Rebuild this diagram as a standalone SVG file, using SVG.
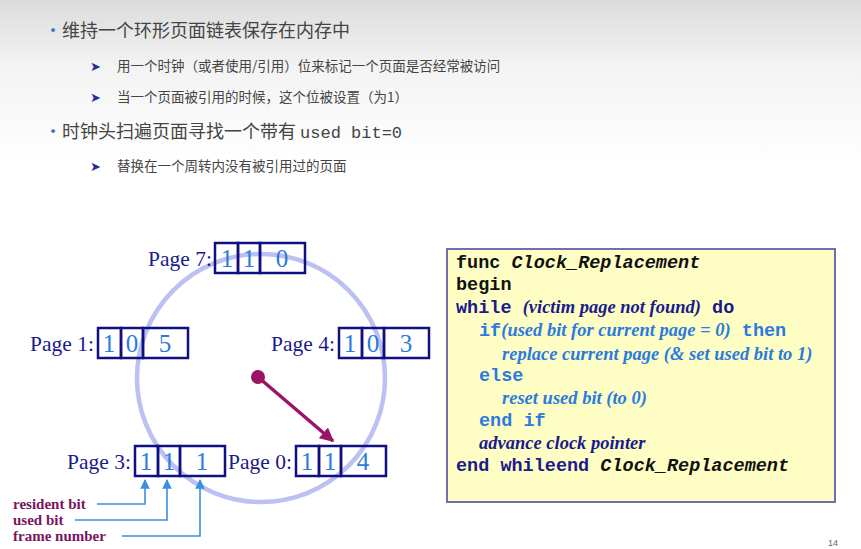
<svg xmlns="http://www.w3.org/2000/svg" width="861" height="549" viewBox="0 0 861 549">
<defs>
<linearGradient id="bg" x1="0" y1="0" x2="0" y2="1"><stop offset="0" stop-color="#dcdcdc"/><stop offset="0.12" stop-color="#f3f3f3"/><stop offset="0.3" stop-color="#ffffff"/></linearGradient>
<marker id="ab" viewBox="0 0 10 10" refX="9" refY="5" markerWidth="6" markerHeight="6" orient="auto"><path d="M0,0 L10,5 L0,10 z" fill="#3a8fe0"/></marker>
<marker id="ap" viewBox="0 0 10 10" refX="9" refY="5" markerWidth="4" markerHeight="4" orient="auto"><path d="M0,0 L10,5 L0,10 z" fill="#9c1466"/></marker>
</defs>
<style>
.cn{font-family:"Noto Sans CJK SC",sans-serif;fill:#444}
.lbl{font-family:"Liberation Serif",serif;font-size:21.5px;fill:#1a1a8c}
.dig{font-family:"Liberation Serif",serif;font-size:25px;fill:#2a7ae0;text-anchor:middle}
.cell{fill:none;stroke:#101080;stroke-width:2.5}
.ln{fill:none;stroke:#3a8fe0;stroke-width:1.6;marker-end:url(#ab)}
.leg{font-family:"Liberation Serif",serif;font-size:15px;font-weight:bold;fill:#7a1460}
.m{font-family:"Liberation Mono",monospace;font-size:18.5px;font-weight:bold}
.it{font-family:"Liberation Serif",serif;font-size:18.5px;font-weight:bold;font-style:italic}
</style>
<rect width="861" height="549" fill="url(#bg)"/>
<g id="text">
<text class="cn" x="44" y="37" font-size="18"><tspan fill="#3a6fd0">•</tspan>维持一个环形页面链表保存在内存中</text>
<text x="90" y="71" font-size="13" fill="#2a2a9a" font-family="DejaVu Sans,sans-serif">➤</text>
<text class="cn" x="117" y="71" font-size="13.5">用一个时钟（或者使用/引用）位来标记一个页面是否经常被访问</text>
<text x="90" y="102" font-size="13" fill="#2a2a9a" font-family="DejaVu Sans,sans-serif">➤</text>
<text class="cn" x="117" y="102" font-size="13.5">当一个页面被引用的时候，这个位被设置（为1）</text>
<text class="cn" x="44" y="138" font-size="18"><tspan fill="#3a6fd0">•</tspan>时钟头扫遍页面寻找一个带有 <tspan font-family="Liberation Mono,monospace" font-size="17">used bit=0</tspan></text>
<text x="90" y="171" font-size="13" fill="#2a2a9a" font-family="DejaVu Sans,sans-serif">➤</text>
<text class="cn" x="117" y="171" font-size="13.5">替换在一个周转内没有被引用过的页面</text>
</g>
<circle id="clock" cx="261" cy="378" r="124" fill="none" stroke="#bcc0f2" stroke-width="4.5"/>
<g id="page7"><text class="lbl" x="212" y="266" text-anchor="end">Page 7:</text>
<rect class="cell" x="215" y="243" width="23" height="30"/><rect class="cell" x="238" y="243" width="22" height="30"/><rect class="cell" x="260" y="243" width="45" height="30"/>
<text class="dig" x="227" y="267">1</text><text class="dig" x="249" y="267">1</text><text class="dig" x="282" y="267">0</text></g>
<g id="page1"><text class="lbl" x="94" y="351" text-anchor="end">Page 1:</text>
<rect class="cell" x="98" y="328" width="23" height="30"/><rect class="cell" x="121" y="328" width="22" height="30"/><rect class="cell" x="143" y="328" width="45" height="30"/>
<text class="dig" x="109" y="352">1</text><text class="dig" x="132" y="352">0</text><text class="dig" x="165" y="352">5</text></g>
<g id="page4"><text class="lbl" x="335" y="351" text-anchor="end">Page 4:</text>
<rect class="cell" x="339" y="328" width="23" height="30"/><rect class="cell" x="362" y="328" width="22" height="30"/><rect class="cell" x="384" y="328" width="45" height="30"/>
<text class="dig" x="350" y="352">1</text><text class="dig" x="373" y="352">0</text><text class="dig" x="406" y="352">3</text></g>
<g id="page3"><text class="lbl" x="131" y="469" text-anchor="end">Page 3:</text>
<rect class="cell" x="135" y="446" width="23" height="30"/><rect class="cell" x="158" y="446" width="22" height="30"/><rect class="cell" x="180" y="446" width="45" height="30"/>
<text class="dig" x="146" y="470">1</text><text class="dig" x="169" y="470">1</text><text class="dig" x="202" y="470">1</text></g>
<g id="page0"><text class="lbl" x="292" y="469" text-anchor="end">Page 0:</text>
<rect class="cell" x="296" y="446" width="23" height="30"/><rect class="cell" x="319" y="446" width="22" height="30"/><rect class="cell" x="341" y="446" width="45" height="30"/>
<text class="dig" x="307" y="470">1</text><text class="dig" x="330" y="470">1</text><text class="dig" x="363" y="470">4</text></g>
<g id="pointer"><circle cx="258" cy="377" r="7" fill="#9c1466"/>
<line x1="258" y1="377" x2="333" y2="441" stroke="#9c1466" stroke-width="3.5" marker-end="url(#ap)"/></g>
<g id="legend">
<text class="leg" x="13" y="509">resident bit</text>
<text class="leg" x="13" y="525">used bit</text>
<text class="leg" x="13" y="541">frame number</text>
</g>
<g id="connectors">
<path class="ln" d="M97,504 H145 V480"/>
<path class="ln" d="M75,520 H167 V480"/>
<path class="ln" d="M122,536 H200 V480"/>
</g>
<g id="code">
<rect x="447" y="249" width="388" height="253" fill="#fefec4" stroke="#7070b0" stroke-width="2"/>
<text class="m" x="456" y="268" fill="#111">func <tspan font-style="italic">Clock_Replacement</tspan></text>
<text class="m" x="456" y="290" fill="#111">begin</text>
<text class="m" x="456" y="313" fill="#1a1a8c">while <tspan class="it">(victim page not found</tspan><tspan class="it">)</tspan> do</text>
<text class="m" x="479" y="336" fill="#2a7ae0">if<tspan class="it">(used bit for current page = 0)</tspan> then</text>
<text class="it" x="502" y="360" fill="#2a7ae0">replace current page (&amp; set used bit to 1)</text>
<text class="m" x="479" y="381" fill="#2a7ae0">else</text>
<text class="it" x="502" y="404" fill="#2a7ae0">reset used bit (to 0)</text>
<text class="m" x="479" y="426" fill="#2a7ae0">end if</text>
<text class="it" x="479" y="449" fill="#1a1a8c">advance clock pointer</text>
<text class="m" x="456" y="471" fill="#1a1a8c">end whileend <tspan fill="#111" font-style="italic">Clock_Replacement</tspan></text>
</g>
<text x="828" y="546" font-family="Liberation Sans,sans-serif" font-size="9" fill="#666">14</text>
</svg>
